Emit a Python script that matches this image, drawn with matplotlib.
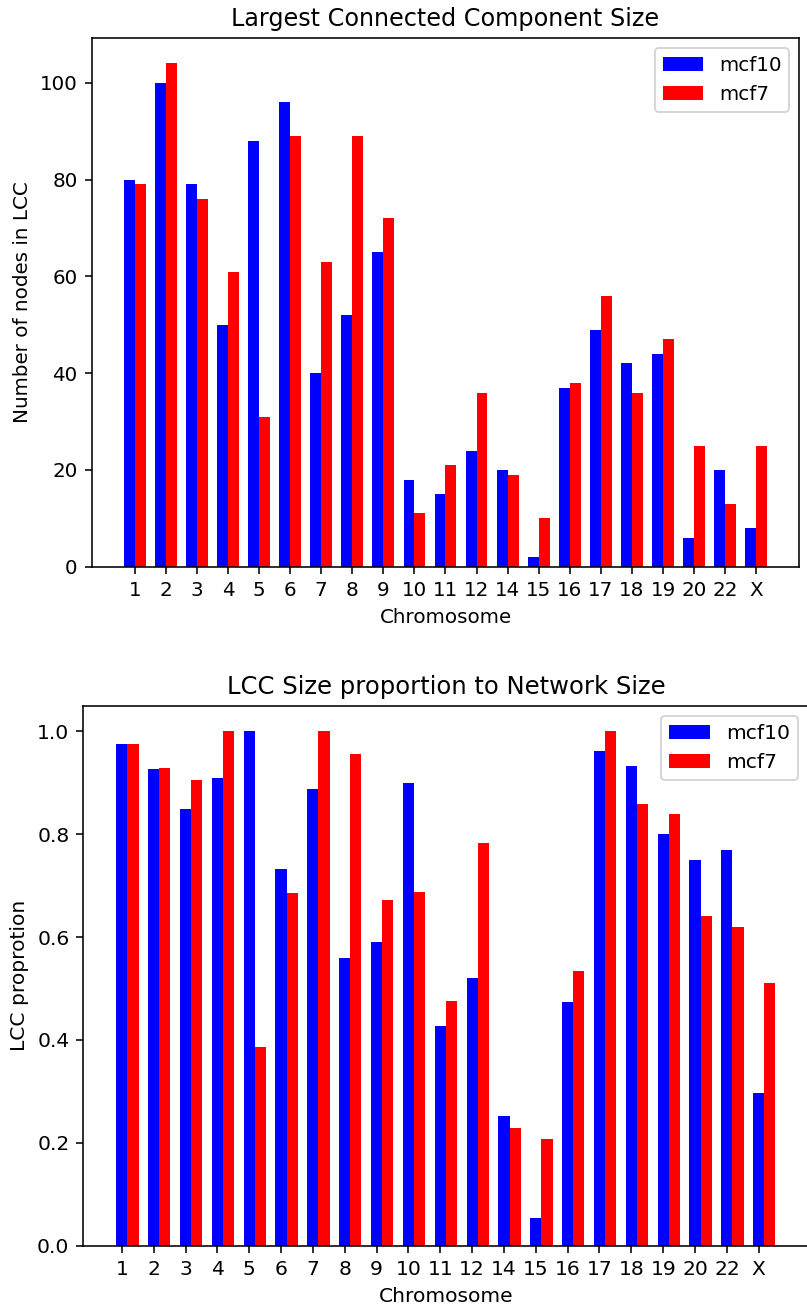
import numpy as np
import matplotlib
matplotlib.use("Agg")
import matplotlib.pyplot as plt

chromosomes = ["1", "2", "3", "4", "5", "6", "7", "8", "9", "10", "11",
               "12", "14", "15", "16", "17", "18", "19", "20", "22", "X"]

# largest connected component size per chromosome
lcc_mcf10 = [80, 100, 79, 50, 88, 96, 40, 52, 65, 18, 15,
             24, 20, 2, 37, 49, 42, 44, 6, 20, 8]
lcc_mcf7 = [79, 104, 76, 61, 31, 89, 63, 89, 72, 11, 21,
            36, 19, 10, 38, 56, 36, 47, 25, 13, 25]

# LCC size as a fraction of the whole network
prop_mcf10 = [0.976, 0.926, 0.849, 0.909, 1.0, 0.733, 0.889, 0.560, 0.591, 0.900, 0.428,
              0.520, 0.253, 0.053, 0.474, 0.961, 0.933, 0.800, 0.750, 0.770, 0.296]
prop_mcf7 = [0.975, 0.929, 0.905, 1.0, 0.387, 0.685, 1.0, 0.957, 0.673, 0.688, 0.476,
             0.783, 0.228, 0.208, 0.535, 1.0, 0.858, 0.840, 0.641, 0.619, 0.510]

W, H = 807, 1309
dpi = 143
fig = plt.figure(figsize=(W / dpi, H / dpi), dpi=dpi)


def px_axes(left, top, right, bottom):
    return fig.add_axes([left / W, 1 - bottom / H, (right - left) / W, (bottom - top) / H])


x = np.arange(len(chromosomes))
width = 0.35

# first plot: bars either side of the tick
ax1 = px_axes(91.7, 38.3, 799.3, 566.7)
ax1.bar(x - width / 2, lcc_mcf10, width, color="blue", label="mcf10")
ax1.bar(x + width / 2, lcc_mcf7, width, color="red", label="mcf7")
ax1.set_xticks(x)
ax1.set_xticklabels(chromosomes)
ax1.set_title("Largest Connected Component Size")
ax1.set_xlabel("Chromosome")
ax1.set_ylabel("Number of nodes in LCC")
ax1.legend(loc="upper right")

# second plot: mcf10 on the tick, mcf7 shifted right (drawn a touch larger)
fs = 10.2
ax2 = px_axes(83.3, 705.7, 808.4, 1245.7)
ax2.bar(x, prop_mcf10, width, color="blue", label="mcf10")
ax2.bar(x + width, prop_mcf7, width, color="red", label="mcf7")
ax2.set_xticks(x)
ax2.set_xticklabels(chromosomes)
ax2.tick_params(labelsize=fs)
ax2.set_title("LCC Size proportion to Network Size", fontsize=fs * 1.2)
ax2.set_xlabel("Chromosome", fontsize=fs)
ax2.set_ylabel("LCC proprotion", fontsize=fs)
ax2.legend(loc="upper right", fontsize=fs)

fig.savefig("out.png", dpi=dpi)
